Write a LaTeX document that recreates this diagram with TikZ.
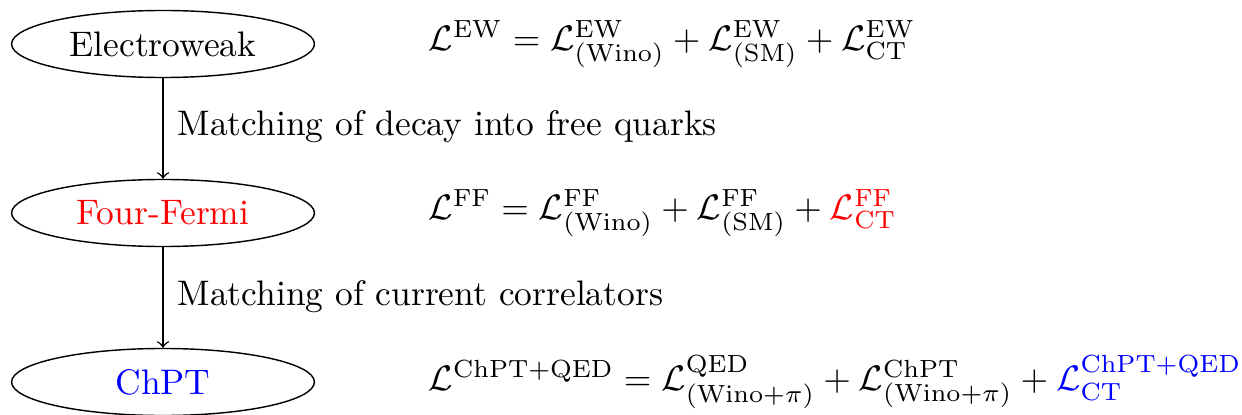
\documentclass[tikz,border=0pt]{standalone}
\usetikzlibrary{shapes.geometric}
\begin{document}
\begin{tikzpicture}[x=0.282pt,y=-0.282pt,
  level/.style={draw, ellipse, minimum width=85.4pt, minimum height=18.9pt, inner sep=0pt},
  steplabel/.style={anchor=west, inner sep=0pt},
  eqn/.style={anchor=west, inner sep=0pt},
  conn/.style={->}]
\useasboundingbox (0,0) rectangle (1242,414);
\node[level] (ew) at (163,44) {Electroweak};
\node[level] (ff) at (163,213) {\textcolor{red}{Four-Fermi}};
\node[level] (ch) at (163,382) {\textcolor{blue}{ChPT}};
\draw[conn] (ew) -- (ff);
\draw[conn] (ff) -- (ch);
\node[steplabel] (m1) at (177,127) {Matching of decay into free quarks};
\node[steplabel] (m2) at (177,297) {Matching of current correlators};
\node[eqn] (e1) at (428,44) {$\mathcal{L}^{\mathrm{EW}} = \mathcal{L}^{\mathrm{EW}}_{(\mathrm{Wino})} + \mathcal{L}^{\mathrm{EW}}_{(\mathrm{SM})} + \mathcal{L}^{\mathrm{EW}}_{\mathrm{CT}}$};
\node[eqn] (e2) at (428,213) {$\mathcal{L}^{\mathrm{FF}} = \mathcal{L}^{\mathrm{FF}}_{(\mathrm{Wino})} + \mathcal{L}^{\mathrm{FF}}_{(\mathrm{SM})} + \textcolor{red}{\mathcal{L}^{\mathrm{FF}}_{\mathrm{CT}}}$};
\node[eqn] (e3) at (428,382) {$\mathcal{L}^{\mathrm{ChPT+QED}} = \mathcal{L}^{\mathrm{QED}}_{(\mathrm{Wino}+\pi)} + \mathcal{L}^{\mathrm{ChPT}}_{(\mathrm{Wino}+\pi)} + \textcolor{blue}{\mathcal{L}^{\mathrm{ChPT+QED}}_{\mathrm{CT}}}$};
\end{tikzpicture}
\end{document}
